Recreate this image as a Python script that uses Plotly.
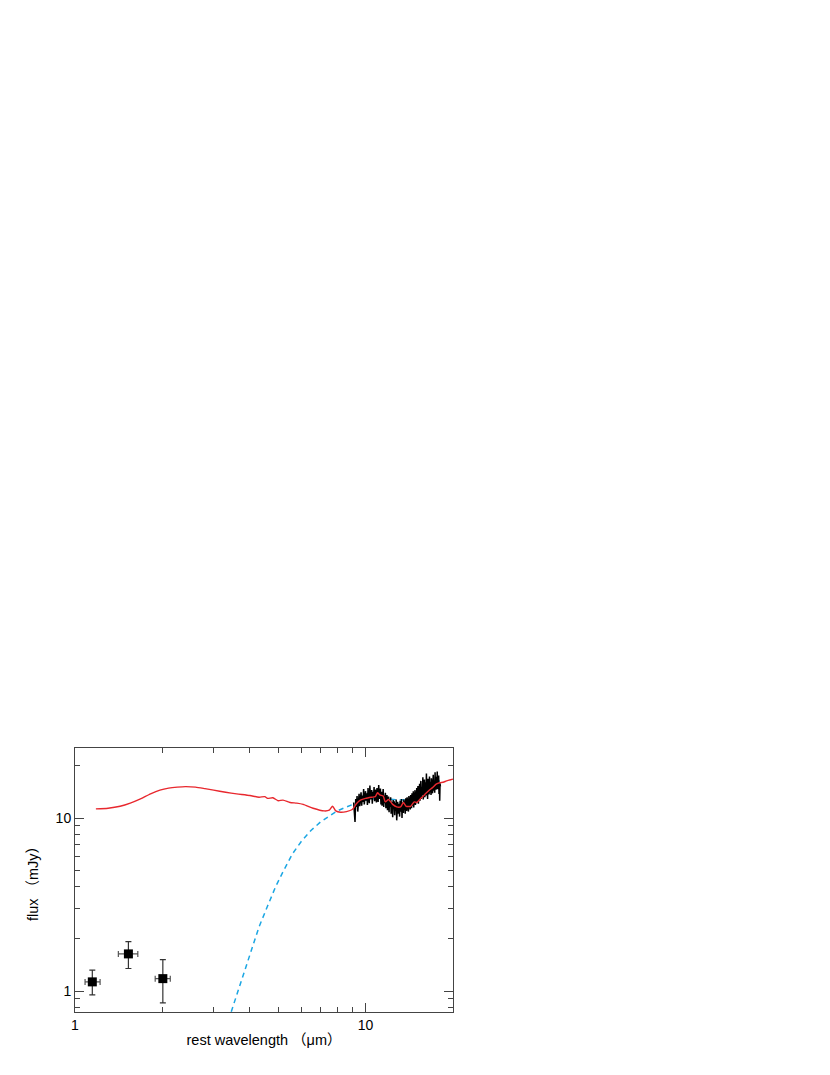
import plotly.graph_objects as go

# --- data ---
# photometric points (rest wavelength in um, flux in mJy)
phot_wl = [1.147, 1.527, 2.006]
phot_flux = [1.13, 1.64, 1.18]
phot_wl_plus = [0.073, 0.118, 0.122]
phot_wl_minus = [0.064, 0.117, 0.118]
phot_flux_plus = [0.19, 0.29, 0.34]
phot_flux_minus = [0.18, 0.29, 0.325]

# IRS spectrum (noisy)
spec_wl = [
    9.10, 9.15, 9.20, 9.25, 9.30, 9.35, 9.40, 9.45, 9.50, 9.55,
    9.60, 9.65, 9.70, 9.75, 9.80, 9.85, 9.90, 9.95, 10.00, 10.05,
    10.10, 10.15, 10.20, 10.25, 10.30, 10.35, 10.40, 10.45, 10.50, 10.55,
    10.60, 10.65, 10.70, 10.75, 10.80, 10.85, 10.90, 10.95, 11.00, 11.05,
    11.10, 11.15, 11.20, 11.25, 11.30, 11.35, 11.40, 11.45, 11.50, 11.55,
    11.60, 11.65, 11.70, 11.75, 11.80, 11.85, 11.90, 11.95, 12.00, 12.05,
    12.10, 12.15, 12.20, 12.25, 12.30, 12.35, 12.40, 12.45, 12.50, 12.55,
    12.60, 12.65, 12.70, 12.75, 12.80, 12.85, 12.90, 12.95, 13.00, 13.05,
    13.10, 13.15, 13.20, 13.25, 13.30, 13.35, 13.40, 13.45, 13.50, 13.55,
    13.60, 13.65, 13.70, 13.75, 13.80, 13.85, 13.90, 13.95, 14.00, 14.05,
    14.10, 14.15, 14.20, 14.25, 14.30, 14.35, 14.40, 14.45, 14.50, 14.55,
    14.60, 14.65, 14.70, 14.75, 14.80, 14.85, 14.90, 14.95, 15.00, 15.05,
    15.10, 15.15, 15.20, 15.25, 15.30, 15.35, 15.40, 15.45, 15.50, 15.55,
    15.60, 15.65, 15.70, 15.75, 15.80, 15.85, 15.90, 15.95, 16.00, 16.05,
    16.10, 16.15, 16.20, 16.25, 16.30, 16.35, 16.40, 16.45, 16.50, 16.55,
    16.60, 16.65, 16.70, 16.75, 16.80, 16.85, 16.90, 16.95, 17.00, 17.05,
    17.10, 17.15, 17.20, 17.25, 17.30, 17.35, 17.40, 17.45, 17.50, 17.55,
    17.60, 17.65, 17.70, 17.75, 17.80, 17.85, 17.90, 17.95, 18.00, 18.05,
    18.10,
]
spec_flux = [
    12.3, 10.8, 9.5, 12.9, 11.6, 13.4, 10.9, 12.2, 13.8, 11.7,
    12.9, 14.1, 11.8, 13.5, 12.4, 14.7, 12.0, 13.2, 14.3, 12.6,
    13.9, 11.9, 14.9, 13.0, 12.2, 15.4, 12.8, 13.6, 14.5, 12.1,
    14.2, 13.1, 15.1, 12.5, 13.8, 14.6, 12.3, 14.9, 13.2, 12.4,
    15.5, 12.9, 13.7, 14.8, 12.0, 14.2, 11.8, 13.9, 14.7, 11.6,
    13.5, 12.2, 14.0, 11.4, 12.9, 13.6, 11.1, 12.6, 13.3, 10.8,
    12.9, 11.6, 13.2, 10.6, 12.4, 11.9, 10.1, 12.7, 11.3, 12.5,
    10.4, 12.2, 11.0, 12.8, 9.7, 11.9, 12.4, 10.6, 12.1, 11.2,
    10.2, 12.6, 11.4, 10.9, 12.9, 10.0, 12.3, 11.6, 10.7, 12.8,
    11.1, 12.5, 10.6, 13.0, 11.8, 11.0, 13.2, 11.5, 12.4, 10.9,
    13.4, 11.7, 12.6, 11.2, 13.6, 12.0, 11.4, 13.9, 12.3, 11.8,
    14.3, 11.5, 13.2, 12.6, 14.5, 11.9, 13.8, 12.2, 14.9, 12.4,
    13.5, 15.3, 12.1, 14.4, 13.0, 15.8, 12.6, 14.1, 16.4, 12.9,
    15.1, 13.6, 14.6, 17.2, 12.8, 15.5, 13.9, 16.7, 13.2, 14.8,
    16.1, 13.5, 18.1, 14.3, 15.2, 12.9, 16.9, 14.6, 15.8, 13.7,
    17.4, 14.1, 16.2, 15.0, 13.6, 17.0, 14.8, 16.3, 13.9, 15.7,
    17.8, 14.4, 16.5, 15.2, 14.0, 18.4, 15.1, 16.8, 14.6, 17.3,
    15.0, 18.6, 14.7, 16.9, 15.4, 17.6, 13.8, 16.2, 12.6, 15.9,
    15.2,
]

# total model (red)
model_wl = [
    1.18, 1.3, 1.43, 1.55, 1.68, 1.82, 1.96, 2.1, 2.25, 2.4,
    2.6, 2.8, 3.0, 3.3, 3.6, 4.0, 4.3, 4.5, 4.6, 4.8,
    5.0, 5.2, 5.5, 5.8, 6.1, 6.6, 7.2, 7.5, 7.7, 7.9,
    8.2, 8.6, 9.0, 9.3, 9.6, 10.0, 10.5, 10.8, 11.0, 11.2,
    11.5, 11.7, 12.0, 12.4, 12.8, 13.2, 13.5, 13.8, 14.3, 14.7,
    15.0, 15.5, 16.0, 16.5, 17.0, 17.5, 18.0, 18.5, 19.0, 19.5,
    20.0,
]
model_flux = [
    11.3, 11.4, 11.7, 12.2, 12.9, 13.8, 14.5, 14.9, 15.1, 15.2,
    15.1, 14.8, 14.5, 14.1, 13.8, 13.5, 13.2, 13.3, 13.0, 13.1,
    12.6, 12.7, 12.3, 12.2, 12.0, 11.4, 11.0, 11.1, 11.7, 11.0,
    10.8, 10.9, 11.2, 12.1, 12.7, 13.0, 13.2, 13.3, 14.0, 13.6,
    13.4, 12.4, 12.8, 12.0, 11.6, 11.6, 12.3, 11.7, 11.7, 12.4,
    12.3, 13.0, 13.7, 14.4, 15.0, 15.7, 16.0, 16.1, 16.4, 16.6,
    16.8,
]

# hot dust component (blue dashed)
dust_wl = [
    3.45, 3.7, 3.9, 4.1, 4.3, 4.6, 4.9, 5.2, 5.6, 6.0,
    6.5, 7.0, 7.5, 8.0, 8.5, 9.0, 9.5, 10.0, 11.0, 12.0,
    13.0, 14.0, 15.0, 16.0, 17.0, 18.0,
]
dust_flux = [
    0.76, 1.08, 1.41, 1.82, 2.35, 3.1, 4.0, 4.9, 6.2, 7.3,
    8.5, 9.5, 10.3, 11.0, 11.5, 12.0, 12.4, 12.7, 13.0, 12.9,
    12.7, 12.8, 13.3, 14.0, 15.0, 16.5,
]

FONT = "Arial, Liberation Sans, Noto Sans CJK SC, sans-serif"
AXIS_COLOR = "#444444"

fig = go.Figure()

fig.add_trace(go.Scatter(
    x=dust_wl, y=dust_flux, mode="lines",
    line=dict(color="#1ba6e3", width=1.5, dash="5px,4px"),
))
fig.add_trace(go.Scatter(
    x=spec_wl, y=spec_flux, mode="lines",
    line=dict(color="black", width=1.5),
))
fig.add_trace(go.Scatter(
    x=model_wl, y=model_flux, mode="lines",
    line=dict(color="#e8282e", width=1.4, shape="spline", smoothing=0.6),
))
fig.add_trace(go.Scatter(
    x=phot_wl, y=phot_flux, mode="markers",
    marker=dict(symbol="square", size=9, color="black"),
    error_x=dict(type="data", symmetric=False, array=phot_wl_plus,
                 arrayminus=phot_wl_minus, color="#555555", thickness=1.2, width=3),
    error_y=dict(type="data", symmetric=False, array=phot_flux_plus,
                 arrayminus=phot_flux_minus, color="#333333", thickness=1.2, width=3),
))

axis_common = dict(
    type="log", showgrid=False, zeroline=False,
    showline=True, linecolor=AXIS_COLOR, linewidth=1, mirror="ticks",
    ticks="inside", ticklen=9, tickcolor=AXIS_COLOR, tickwidth=1,
    dtick=1, tickfont=dict(family=FONT, size=14, color="black"),
    minor=dict(ticks="inside", ticklen=5, tickcolor=AXIS_COLOR, dtick="D1", showgrid=False),
)

fig.update_xaxes(
    range=[0, 1.301],
    title=dict(text="rest wavelength （μm）", font=dict(family=FONT, size=14.5, color="black"), standoff=3),
    **axis_common,
)
fig.update_yaxes(
    range=[-0.121, 1.405],
    title=dict(text="flux （mJy）", font=dict(family=FONT, size=14.5, color="black"), standoff=13),
    **axis_common,
)

# the page body adds an 8px margin, so the figure is shifted up/left by that much
fig.update_layout(
    width=814, height=1059,
    margin=dict(l=67, r=369, t=740, b=55),
    plot_bgcolor="white", paper_bgcolor="white",
    showlegend=False,
    font=dict(family=FONT, size=14, color="black"),
)

fig.write_html("out.html")
